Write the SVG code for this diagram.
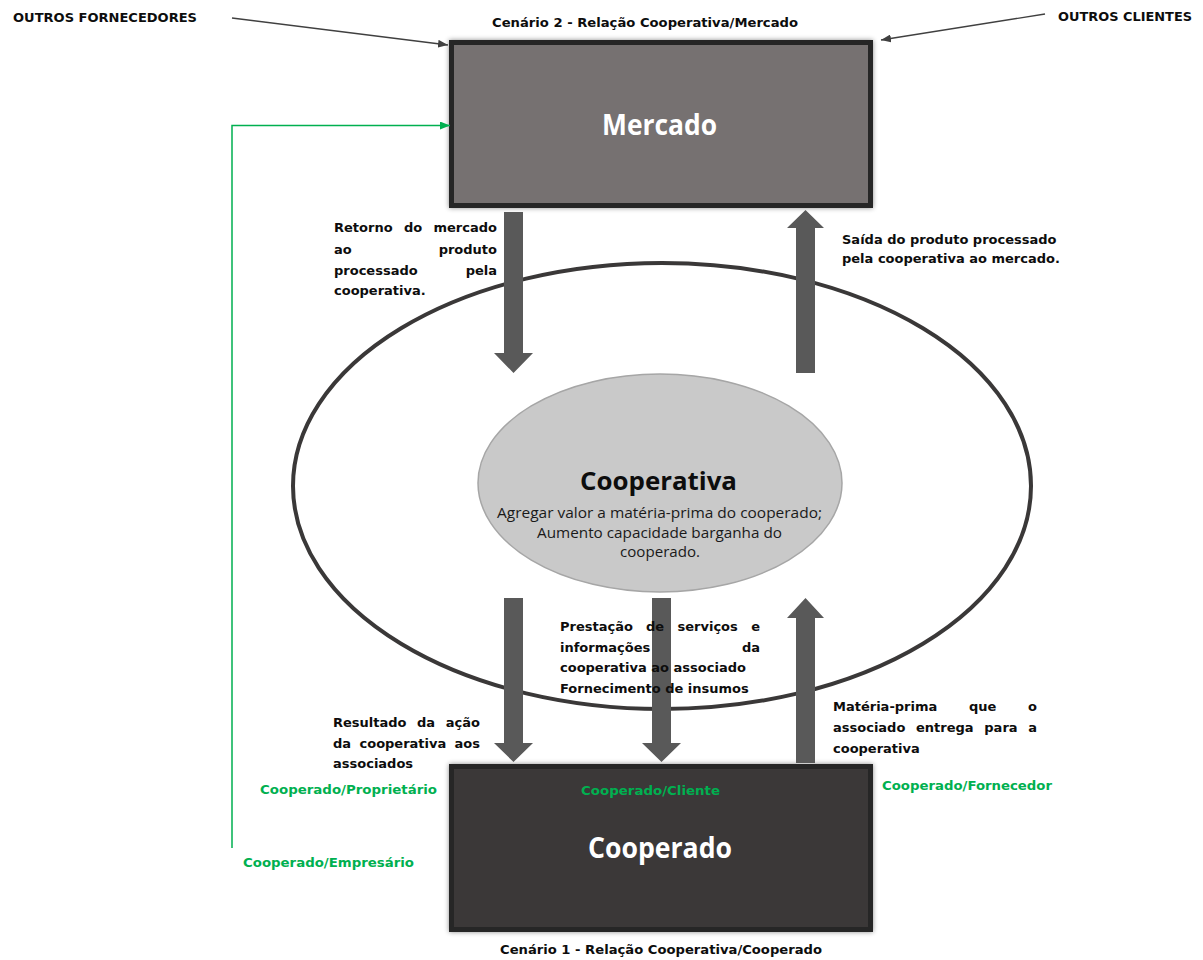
<svg xmlns="http://www.w3.org/2000/svg" width="1203" height="960" viewBox="0 0 1203 960">
  <style>
    text{font-family:"Open Sans","Liberation Sans",sans-serif}
    .t{font-family:"DejaVu Sans","Liberation Sans",sans-serif;font-weight:700;font-size:13px;fill:#0d0d0d}
    .e{text-anchor:end}
    .g{font-family:"DejaVu Sans","Liberation Sans",sans-serif;font-weight:700;font-size:13px;fill:#00b050}
    .sub{font-weight:400;font-size:15px;fill:#1a1a1a}
    .big{font-weight:700;fill:#ffffff}
    .thin{stroke:#404040;stroke-width:1.3;fill:none}
    .green{stroke:#00b050;stroke-width:1.5;fill:none}
    .blk{fill:#595959}
  </style>
  <defs>
    <filter id="sh" x="-5%" y="-10%" width="110%" height="120%">
      <feDropShadow dx="0" dy="0" stdDeviation="2.5" flood-color="#000" flood-opacity="0.45"/>
    </filter>
    <marker id="ah" viewBox="0 0 10 8" refX="10" refY="4" markerWidth="10" markerHeight="8" markerUnits="userSpaceOnUse" orient="auto">
      <path d="M0,0 L10,4 L0,8 z" fill="#404040"/>
    </marker>
    <marker id="ahg" viewBox="0 0 10 8" refX="10" refY="4" markerWidth="10" markerHeight="8" markerUnits="userSpaceOnUse" orient="auto">
      <path d="M0,0 L10,4 L0,8 z" fill="#00b050"/>
    </marker>
  </defs>

  <rect width="1203" height="960" fill="#ffffff"/>

  <!-- outer ring: cooperative environment -->
  <g id="ambiente">
    <ellipse cx="662" cy="486" rx="369" ry="223" fill="#ffffff" stroke="#3a3838" stroke-width="4"/>
  </g>

  <!-- core: cooperativa -->
  <g id="cooperativa">
    <ellipse cx="660" cy="483" rx="182" ry="109" fill="#c9c9c9" stroke="#a6a6a6" stroke-width="1.5"/>
    <text x="580" y="490" textLength="157" lengthAdjust="spacingAndGlyphs" style="font-weight:700;font-size:25px;fill:#0d0d0d">Cooperativa</text>
    <text class="sub" x="497" y="518" textLength="325" lengthAdjust="spacingAndGlyphs">Agregar valor a matéria-prima do cooperado;</text>
    <text class="sub" x="537" y="538" textLength="245" lengthAdjust="spacingAndGlyphs">Aumento capacidade barganha do</text>
    <text class="sub" x="620" y="557" textLength="80" lengthAdjust="spacingAndGlyphs">cooperado.</text>
  </g>

  <!-- top node: market -->
  <g id="mercado">
    <rect x="451.5" y="42.5" width="419" height="163" fill="#767171" stroke="#262626" stroke-width="5" filter="url(#sh)"/>
    <text class="big" x="602" y="135" textLength="115" lengthAdjust="spacingAndGlyphs" font-size="28">Mercado</text>
    <text class="t" x="492" y="27" textLength="306" lengthAdjust="spacingAndGlyphs">Cenário 2 - Relação Cooperativa/Mercado</text>
  </g>

  <!-- bottom node: member -->
  <g id="cooperado">
    <rect x="451.5" y="766.5" width="419" height="163" fill="#3b3838" stroke="#262626" stroke-width="5" filter="url(#sh)"/>
    <text class="big" x="588" y="858" textLength="144" lengthAdjust="spacingAndGlyphs" font-size="28">Cooperado</text>
    <text class="g" x="581" y="795" textLength="139" lengthAdjust="spacingAndGlyphs">Cooperado/Cliente</text>
    <text class="t" x="500" y="954" textLength="322" lengthAdjust="spacingAndGlyphs">Cenário 1 - Relação Cooperativa/Cooperado</text>
  </g>

  <g id="outros-fornecedores">
    <text class="t" x="13" y="22" textLength="184" lengthAdjust="spacingAndGlyphs">OUTROS FORNECEDORES</text>
  </g>
  <g id="outros-clientes">
    <text class="t" x="1058" y="21" textLength="134" lengthAdjust="spacingAndGlyphs">OUTROS CLIENTES</text>
  </g>

  <!-- connectors -->
  <g id="connectors">
    <path class="thin" d="M232,18 L448,45" marker-end="url(#ah)"/>
    <path class="thin" d="M1045,14 L881,40" marker-end="url(#ah)"/>
    <path class="green" d="M232,848 V125.5 H450" marker-end="url(#ahg)"/>
    <path class="blk" d="M504,212 H523 V353 H533 L513.5,373 L494,353 H504 Z"/>
    <path class="blk" d="M796,373 H815 V228 H824 L805.5,210 L787,228 H796 Z"/>
    <path class="blk" d="M504,598 H523 V743 H533 L513.5,762 L494,743 H504 Z"/>
    <path class="blk" d="M652,598 H671 V743 H681 L661.5,762 L642,743 H652 Z"/>
    <path class="blk" d="M796,763 H815 V618 H824 L805.5,598 L787,618 H796 Z"/>
  </g>

  <!-- flow labels (justified lines: words placed one by one) -->
  <g id="label-retorno">
    <text class="t" x="334" y="232">Retorno</text>
    <text class="t" x="404" y="232">do</text>
    <text class="t e" x="497" y="232">mercado</text>
    <text class="t" x="334" y="254">ao</text>
    <text class="t e" x="497" y="254">produto</text>
    <text class="t" x="334" y="275">processado</text>
    <text class="t e" x="497" y="275">pela</text>
    <text class="t" x="334" y="295">cooperativa.</text>
  </g>

  <g id="label-saida">
    <text class="t" x="842" y="244">Saída do produto processado</text>
    <text class="t" x="842" y="263">pela cooperativa ao mercado.</text>
  </g>

  <g id="label-prestacao">
    <text class="t" x="560" y="631">Prestação</text>
    <text class="t" x="646" y="631">de</text>
    <text class="t" x="677.5" y="631">serviços</text>
    <text class="t e" x="760" y="631">e</text>
    <text class="t" x="560" y="652">informações</text>
    <text class="t e" x="760" y="652">da</text>
    <text class="t" x="560" y="672">cooperativa ao associado</text>
    <text class="t" x="560" y="693">Fornecimento de insumos</text>
  </g>

  <g id="label-resultado">
    <text class="t" x="333" y="727">Resultado</text>
    <text class="t" x="417" y="727">da</text>
    <text class="t e" x="480" y="727">ação</text>
    <text class="t" x="333" y="748">da</text>
    <text class="t" x="359.5" y="748">cooperativa</text>
    <text class="t e" x="480" y="748">aos</text>
    <text class="t" x="333" y="768">associados</text>
  </g>

  <g id="label-materia">
    <text class="t" x="833" y="711">Matéria-prima</text>
    <text class="t" x="969" y="711">que</text>
    <text class="t e" x="1037" y="711">o</text>
    <text class="t" x="833" y="732">associado</text>
    <text class="t" x="916" y="732">entrega</text>
    <text class="t" x="984.3" y="732">para</text>
    <text class="t e" x="1037" y="732">a</text>
    <text class="t" x="833" y="753">cooperativa</text>
  </g>

  <!-- member roles -->
  <g id="roles">
    <text class="g" x="260" y="794" textLength="177" lengthAdjust="spacingAndGlyphs">Cooperado/Proprietário</text>
    <text class="g" x="243" y="867" textLength="171" lengthAdjust="spacingAndGlyphs">Cooperado/Empresário</text>
    <text class="g" x="882" y="790" textLength="170" lengthAdjust="spacingAndGlyphs">Cooperado/Fornecedor</text>
  </g>
</svg>
